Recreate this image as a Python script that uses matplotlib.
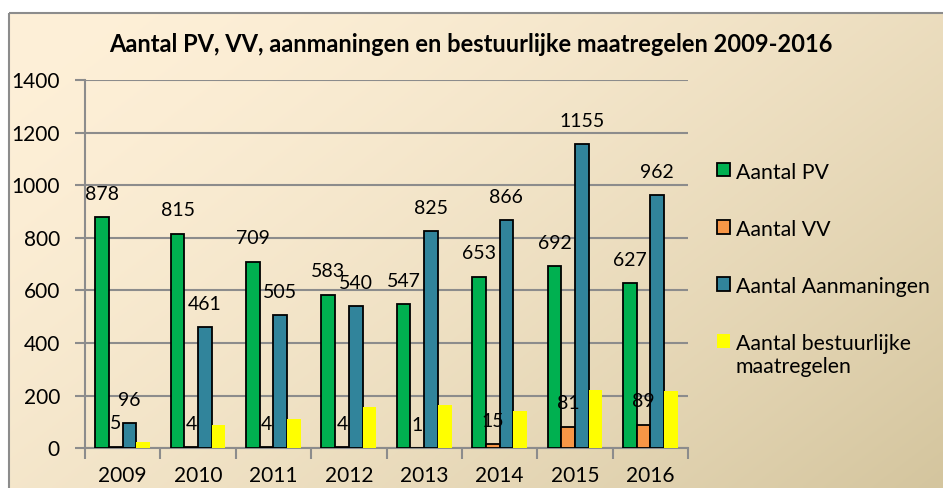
import matplotlib.pyplot as plt
import numpy as np
from matplotlib.patches import Rectangle

plt.rcParams['font.family'] = 'Lato'

# Data
years = ['2009', '2010', '2011', '2012', '2013', '2014', '2015', '2016']
aantal_pv = [878, 815, 709, 583, 547, 653, 692, 627]
aantal_vv = [5, 4, 4, 4, 1, 15, 81, 89]
aantal_aanmaningen = [96, 461, 505, 540, 825, 866, 1155, 962]
aantal_bestuurlijk = [24, 89, 110, 158, 165, 142, 222, 218]

fig = plt.figure(figsize=(9.43, 4.88), dpi=100)

# background: diagonal cream gradient with grey border
bg = fig.add_axes([0, 0, 1, 1], zorder=-10)
bg.set_xlim(0, 943)
bg.set_ylim(488, 0)
bg.axis('off')
c0 = np.array([254, 240, 216]) / 255
c1 = np.array([212, 197, 158]) / 255
gx, gy = np.meshgrid(np.linspace(0, 1, 300), np.linspace(0, 1, 160))
t = (gx * 0.6 + gy * 0.4) ** 1.6
grad = c0[None, None, :] * (1 - t[..., None]) + c1[None, None, :] * t[..., None]
bg.imshow(grad, extent=[9, 943, 488, 13], aspect='auto', zorder=0)
bg.add_patch(Rectangle((9, 13), 960, 500, fill=False, edgecolor='#8c8c8c', lw=1.5, zorder=1))

ax = fig.add_axes([85 / 943, 1 - 448.3 / 488, (688 - 85) / 943, (448.3 - 80) / 488])
ax.patch.set_alpha(0)

x = np.arange(len(years))
w = 1 / 5.5
series = [
    (aantal_pv, '#00B050', 'black', 'Aantal PV', True),
    (aantal_vv, '#F79646', 'black', 'Aantal VV', True),
    (aantal_aanmaningen, '#31849B', 'black', 'Aantal Aanmaningen', True),
    (aantal_bestuurlijk, '#FFFF00', 'none', 'Aantal bestuurlijke\nmaatregelen', False),
]
handles = []
for i, (vals, col, ec, lab, show) in enumerate(series):
    pos = x + (i - 1.5) * w
    b = ax.bar(pos, vals, width=w, color=col, edgecolor=ec, linewidth=1.3, label=lab, zorder=3)
    handles.append(b)
    if show:
        for p, v in zip(pos, vals):
            ax.annotate(str(v), (p, v), xytext=(0, 23), textcoords='offset pixels',
                        ha='center', va='center', fontsize=14, color='black', zorder=4)

ax.set_xlim(-0.5, len(years) - 0.5)
ax.set_ylim(0, 1400)
ax.set_yticks(range(0, 1401, 200))
ax.set_xticks(x)
ax.set_xticklabels(years)
ax.set_xticks(np.arange(-0.5, len(years)), minor=True)
ax.tick_params(axis='x', which='major', length=0, pad=13, labelsize=15)
ax.tick_params(axis='x', which='minor', length=8, width=1.5, color='#8c8c8c', direction='out')
ax.tick_params(axis='y', length=7, width=1.5, color='#8c8c8c', pad=11, labelsize=15)
ax.grid(axis='y', color='#8c8c8c', linewidth=1.5, zorder=0)
ax.set_axisbelow(True)
for s in ['top', 'right']:
    ax.spines[s].set_visible(False)
for s in ['left', 'bottom']:
    ax.spines[s].set_color('#8c8c8c')
    ax.spines[s].set_linewidth(1.5)

fig.text(0.4995, 1 - 45 / 488, 'Aantal PV, VV, aanmaningen en bestuurlijke maatregelen 2009-2016',
         ha='center', va='center', fontsize=17, fontweight='bold')

leg = fig.legend(handles=handles, loc='upper left', bbox_to_anchor=(706 / 943, 1 - 152 / 488),
                 frameon=False, fontsize=15.3, borderpad=0, handlelength=0.62, handleheight=0.62,
                 handletextpad=0.28, labelspacing=1.75)
# keep the marker of the two-line label next to its first line
for row in leg._legend_handle_box.get_children()[0].get_children():
    row.align = 'top'

plt.savefig('out.png', dpi=100)
